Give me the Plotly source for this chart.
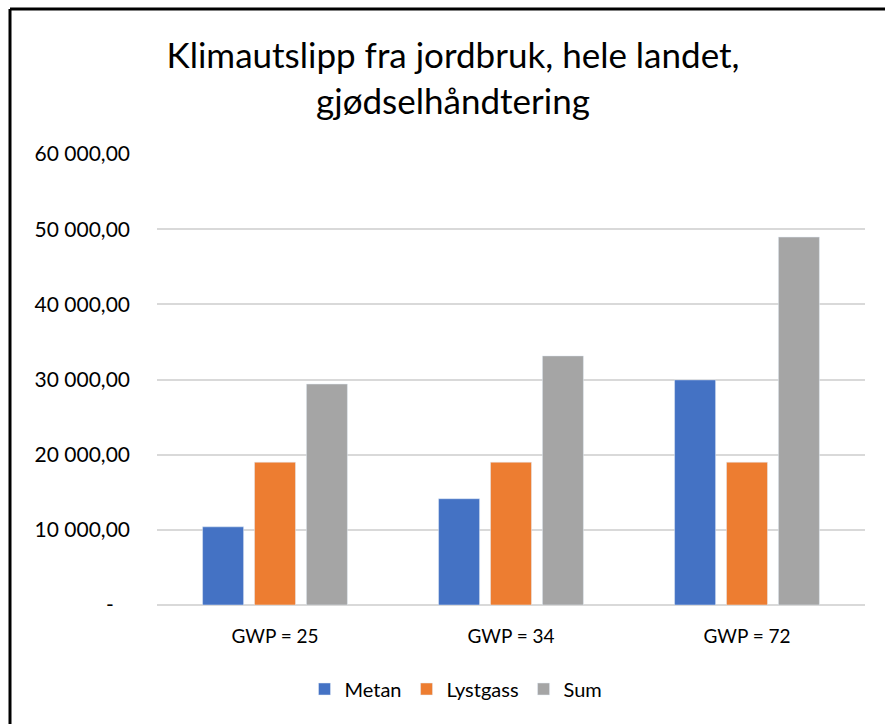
import plotly.graph_objects as go

categories = ["GWP = 25", "GWP = 34", "GWP = 72"]
metan = [10400, 14140, 29950]
lystgass = [19000, 19000, 19000]
sum_vals = [29400, 33140, 48950]

tick_vals = [0, 10000, 20000, 30000, 40000, 50000, 60000]
tick_text = ["-\u00a0\u00a0\u00a0", "10 000,00", "20 000,00", "30 000,00", "40 000,00", "50 000,00", "60 000,00"]

FONT = "Lato"
W, H = 885, 724
L, T = 157, 154
PW, PH = 708, 451
R = W - L - PW
B = H - T - PH

fig = go.Figure()
fig.add_trace(go.Bar(name="Metan", x=categories, y=metan, marker_color="#4472C4"))
fig.add_trace(go.Bar(name="Lystgass", x=categories, y=lystgass, marker_color="#ED7D31"))
fig.add_trace(go.Bar(name="Sum", x=categories, y=sum_vals, marker_color="#A5A5A5"))

bx = -(157 - 10) / PW
by = 1 + (154 - 9) / PH

fig.update_layout(
    width=W, height=H,
    margin=dict(l=L, r=R, t=T, b=B, autoexpand=False),
    paper_bgcolor="white", plot_bgcolor="white",
    font=dict(family=FONT, color="#000000", size=18),
    title=dict(
        text="Klimautslipp fra jordbruk, hele landet,<br>gjødselhåndtering",
        x=453/W, xanchor="center", xref="container",
        y=1 - 68/H, yanchor="middle", yref="container",
        font=dict(family=FONT, size=35, color="#000000"),
    ),
    barmode="group", bargap=0.34, bargroupgap=0.21,
    showlegend=True,
    legend=dict(orientation="h", x=(456-157)/PW, xref="paper", xanchor="center",
                y=(605-689)/PH, yanchor="middle",
                font=dict(family=FONT, size=20, color="#000000"),
                traceorder="normal", bgcolor="rgba(0,0,0,0)"),
    shapes=[
        dict(type="line", xref="paper", yref="paper", x0=bx, x1=bx, y0=-0.5, y1=by,
             line=dict(color="black", width=3), layer="below"),
        dict(type="line", xref="paper", yref="paper", x0=bx, x1=1.3, y0=by, y1=by,
             line=dict(color="black", width=3), layer="below"),
    ],
)
fig.update_yaxes(range=[0, 60000], tickvals=tick_vals, ticktext=tick_text,
                 showgrid=True, gridcolor="#D9D9D9", gridwidth=1.5,
                 zeroline=True, zerolinecolor="#D9D9D9", zerolinewidth=1.5,
                 showline=False, ticks="", ticklabelstandoff=26,
                 tickfont=dict(family=FONT, size=21, color="#000000"), fixedrange=True)
fig.update_xaxes(showline=False, ticks="", ticklabelstandoff=18, tickangle=0,
                 tickfont=dict(family=FONT, size=19, color="#000000"), fixedrange=True)

fig.write_html("out.html", config={"displayModeBar": False},
               post_script="document.body.style.margin='0';document.body.style.overflow='hidden';")
